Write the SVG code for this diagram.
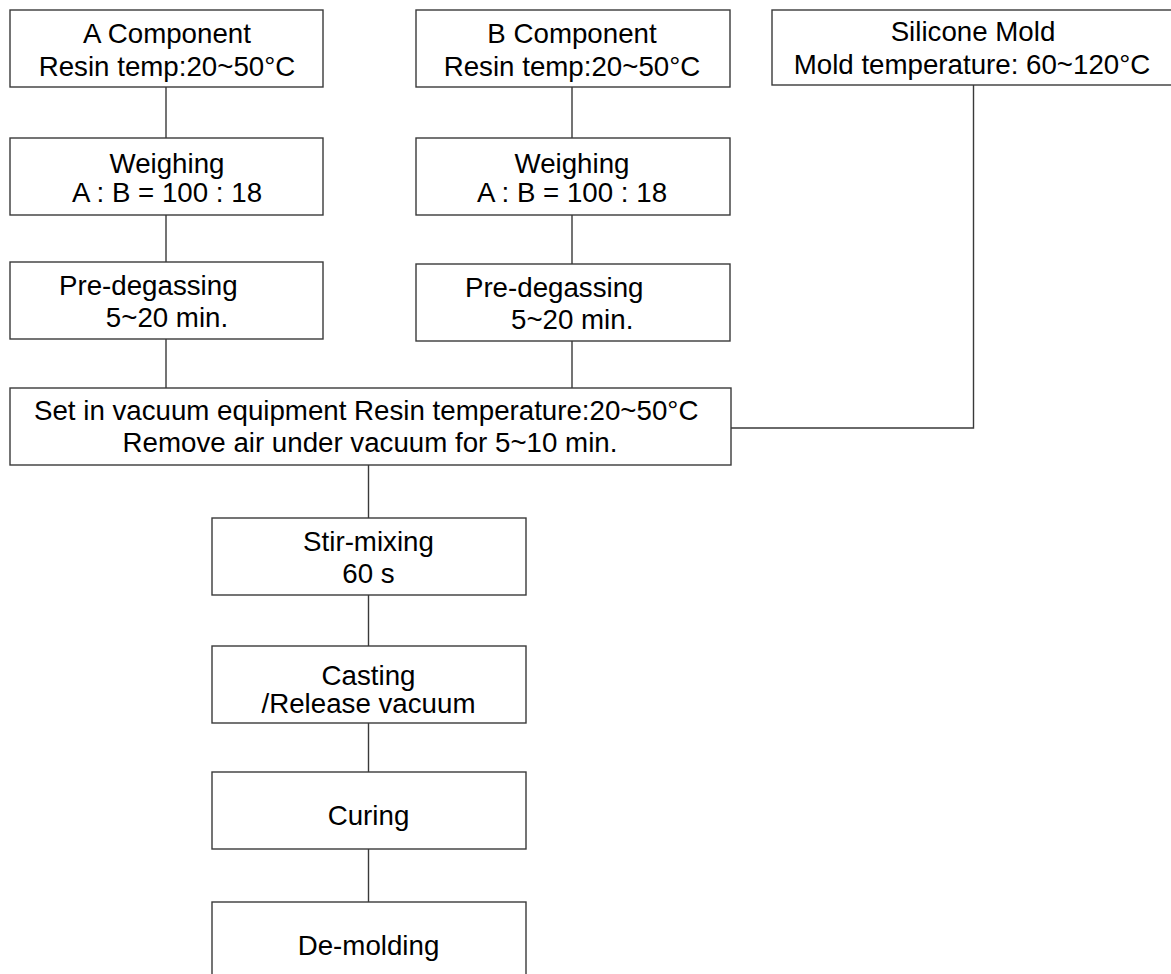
<svg xmlns="http://www.w3.org/2000/svg" width="1171" height="974" viewBox="0 0 1171 974">
<style>
.box{fill:#ffffff;stroke:#3a3a3a;stroke-width:1.4}
.ln{fill:none;stroke:#3a3a3a;stroke-width:1.4}
text{font-family:"Liberation Sans",Arial,sans-serif;font-size:27.7px;fill:#000;text-anchor:middle}
</style>
<rect width="1171" height="974" fill="#ffffff"/>
<g id="connectors">
<path class="ln" d="M166 87V138M166 215V262M166 339V388"/>
<path class="ln" d="M572 87V138M572 215V264M572 341V388"/>
<path class="ln" d="M973.5 85V428H731"/>
<path class="ln" d="M368.5 465V518M368.5 595V646M368.5 723V772M368.5 849V902"/>
</g>
<g id="a-component"><rect class="box" x="10" y="10" width="313" height="77"/><text x="167" y="43">A Component</text><text x="167" y="76">Resin temp:20~50°C</text></g>
<g id="b-component"><rect class="box" x="416" y="10" width="314" height="77"/><text x="572" y="43">B Component</text><text x="572" y="76">Resin temp:20~50°C</text></g>
<g id="silicone-mold"><rect class="box" x="772" y="10" width="410" height="75"/><text x="973" y="41">Silicone Mold</text><text x="972" y="74">Mold temperature: 60~120°C</text></g>
<g id="weighing-a"><rect class="box" x="10" y="138" width="313" height="77"/><text x="167" y="173">Weighing</text><text x="167" y="202">A : B = 100 : 18</text></g>
<g id="weighing-b"><rect class="box" x="416" y="138" width="314" height="77"/><text x="572" y="173">Weighing</text><text x="572" y="202">A : B = 100 : 18</text></g>
<g id="predegas-a"><rect class="box" x="10" y="262" width="313" height="77"/><text x="148.3" y="295">Pre-degassing</text><text x="167" y="327.3">5~20 min.</text></g>
<g id="predegas-b"><rect class="box" x="416" y="264" width="314" height="77"/><text x="554.2" y="297.3">Pre-degassing</text><text x="572.2" y="329.3">5~20 min.</text></g>
<g id="vacuum"><rect class="box" x="10" y="388" width="721" height="77"/><text x="366.2" y="420">Set in vacuum equipment Resin temperature:20~50°C</text><text x="370" y="451.7">Remove air under vacuum for 5~10 min.</text></g>
<g id="stir"><rect class="box" x="212" y="518" width="314" height="77"/><text x="368.5" y="550.7">Stir-mixing</text><text x="368.5" y="583.3">60 s</text></g>
<g id="casting"><rect class="box" x="212" y="646" width="314" height="77"/><text x="368.5" y="684.5">Casting</text><text x="368.5" y="713">/Release vacuum</text></g>
<g id="curing"><rect class="box" x="212" y="772" width="314" height="77"/><text x="368.5" y="825">Curing</text></g>
<g id="demolding"><rect class="box" x="212" y="902" width="314" height="80"/><text x="368.5" y="955">De-molding</text></g>
</svg>
